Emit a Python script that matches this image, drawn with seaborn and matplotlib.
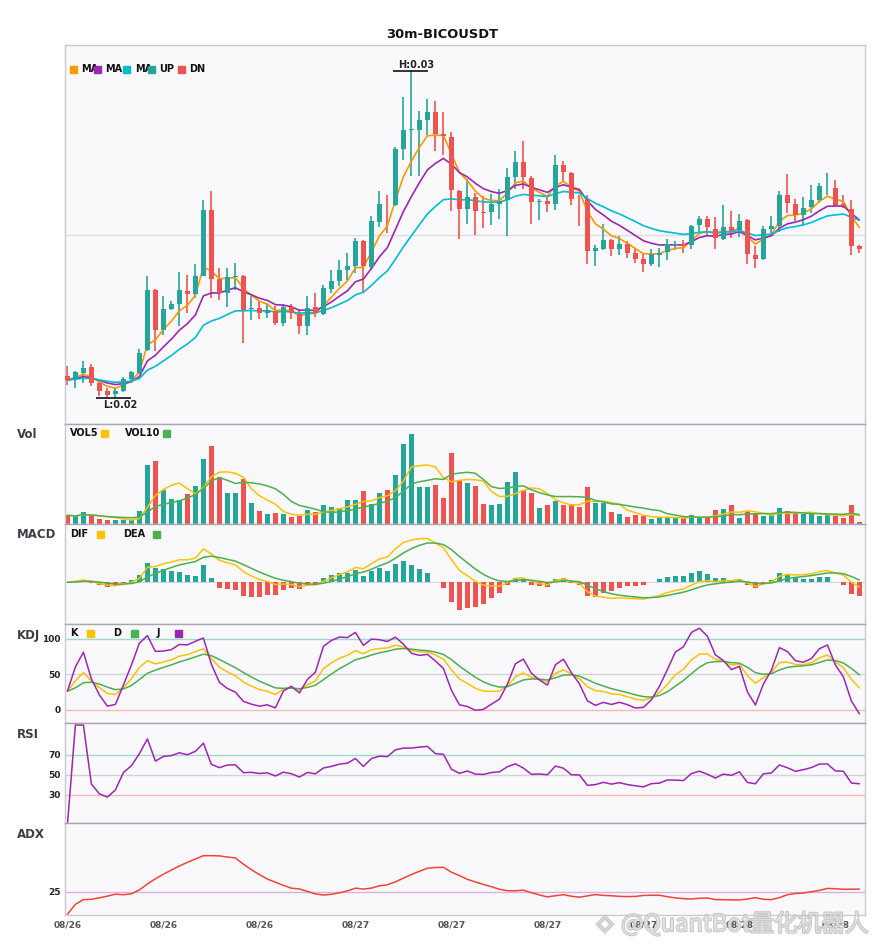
import numpy as np
import pandas as pd
import matplotlib
matplotlib.use("Agg")
import matplotlib.pyplot as plt
import matplotlib.patheffects as pe
from matplotlib.patches import Rectangle
import seaborn as sns

# ---------------- data (prices in 1e-5 USDT) ----------------
title = "30m-BICOUSDT"
open_e5 = [2218, 2213, 2225, 2235, 2203, 2187, 2181, 2187, 2211, 2223,
           2270, 2389, 2310, 2352, 2361, 2388, 2382, 2418, 2550, 2411,
           2383, 2415, 2417, 2351, 2353, 2343, 2347, 2323, 2355, 2342,
           2317, 2355, 2342, 2391, 2407, 2429, 2438, 2487, 2435, 2526,
           2560, 2559, 2672, 2709, 2710, 2730, 2745, 2702, 2695, 2588,
           2551, 2575, 2546, 2545, 2562, 2569, 2615, 2645, 2613, 2565,
           2568, 2562, 2640, 2624, 2572, 2570, 2467, 2473, 2490, 2472,
           2482, 2464, 2452, 2442, 2460, 2466, 2480, 2482, 2479, 2519,
           2532, 2512, 2492, 2515, 2509, 2529, 2460, 2452, 2512, 2518,
           2580, 2562, 2541, 2555, 2569, 2597, 2593, 2562, 2551, 2477]
high_e5 = [2238, 2228, 2248, 2242, 2209, 2194, 2194, 2217, 2227, 2271,
           2418, 2392, 2377, 2367, 2425, 2419, 2441, 2570, 2587, 2433,
           2433, 2443, 2419, 2377, 2367, 2364, 2357, 2362, 2362, 2353,
           2378, 2383, 2400, 2430, 2450, 2463, 2493, 2489, 2537, 2587,
           2580, 2675, 2775, 2827, 2747, 2771, 2768, 2745, 2705, 2590,
           2611, 2583, 2577, 2582, 2591, 2633, 2668, 2688, 2618, 2572,
           2580, 2660, 2648, 2626, 2580, 2580, 2480, 2522, 2492, 2498,
           2487, 2473, 2463, 2471, 2474, 2491, 2487, 2490, 2520, 2538,
           2538, 2535, 2560, 2547, 2542, 2531, 2477, 2518, 2537, 2588,
           2622, 2571, 2575, 2600, 2603, 2623, 2609, 2580, 2570, 2480]
low_e5 = [2200, 2194, 2204, 2197, 2178, 2175, 2173, 2185, 2203, 2222,
          2267, 2267, 2300, 2350, 2317, 2343, 2373, 2417, 2373, 2370,
          2355, 2390, 2285, 2329, 2331, 2334, 2320, 2317, 2331, 2302,
          2300, 2335, 2340, 2383, 2397, 2409, 2423, 2383, 2431, 2515,
          2503, 2557, 2650, 2617, 2618, 2700, 2667, 2660, 2547, 2491,
          2522, 2500, 2513, 2519, 2532, 2499, 2591, 2592, 2522, 2530,
          2545, 2549, 2607, 2560, 2518, 2442, 2437, 2470, 2458, 2460,
          2453, 2443, 2425, 2438, 2436, 2450, 2470, 2465, 2471, 2502,
          2497, 2471, 2490, 2493, 2495, 2442, 2433, 2449, 2503, 2507,
          2543, 2527, 2517, 2543, 2563, 2580, 2557, 2554, 2460, 2465]
close_e5 = [2210, 2225, 2235, 2203, 2187, 2180, 2187, 2211, 2225, 2263,
            2389, 2310, 2352, 2361, 2390, 2382, 2418, 2550, 2411, 2383,
            2415, 2417, 2350, 2353, 2343, 2349, 2323, 2355, 2343, 2317,
            2353, 2343, 2393, 2407, 2429, 2438, 2487, 2437, 2527, 2562,
            2559, 2672, 2710, 2711, 2730, 2745, 2702, 2698, 2589, 2551,
            2575, 2547, 2544, 2561, 2567, 2615, 2645, 2615, 2565, 2568,
            2562, 2640, 2625, 2572, 2571, 2467, 2473, 2490, 2472, 2482,
            2464, 2452, 2442, 2461, 2464, 2482, 2481, 2478, 2517, 2532,
            2515, 2493, 2515, 2508, 2528, 2462, 2452, 2512, 2518, 2580,
            2563, 2541, 2553, 2569, 2597, 2598, 2560, 2558, 2477, 2471]
volume = [26, 23, 35, 25, 15, 11, 11, 13, 11, 38,
          179, 191, 102, 75, 72, 92, 116, 197, 236, 143,
          95, 95, 137, 62, 38, 29, 32, 29, 20, 24,
          41, 35, 56, 50, 47, 72, 72, 99, 59, 95,
          102, 149, 243, 273, 113, 113, 119, 80, 213, 134,
          125, 116, 59, 56, 59, 128, 158, 104, 95, 47,
          56, 68, 56, 59, 50, 113, 62, 62, 35, 29,
          20, 26, 23, 14, 20, 20, 20, 17, 26, 20,
          20, 41, 44, 56, 17, 38, 29, 23, 26, 47,
          38, 32, 29, 32, 23, 26, 23, 17, 56, 5]
tick_pos = [0, 12, 24, 36, 48, 60, 72, 84, 96]
tick_labels = ["08/26", "08/26", "08/26", "08/27", "08/27",
               "08/27", "08/27", "08/28", "08/28"]

df = pd.DataFrame({"o": open_e5, "h": high_e5, "l": low_e5,
                   "c": close_e5, "v": volume}).astype(float)
df[["o", "h", "l", "c"]] /= 1e5
df["i"] = np.arange(len(df))
o, h, l, c, v = df.o, df.h, df.l, df.c, df.v
up = c >= o


def ema(s, alpha):
    return s.ewm(alpha=alpha, adjust=False).mean()


# ---------------- indicators ----------------
ma1 = c.ewm(span=5, adjust=False).mean()
ma2 = c.ewm(span=10, adjust=False).mean()
ma3 = c.ewm(span=20, adjust=False).mean()
vol5 = v.rolling(5, min_periods=1).mean()
vol10 = v.rolling(10, min_periods=1).mean()
dif = c.ewm(span=6, adjust=False).mean() - c.ewm(span=14, adjust=False).mean()
dea = dif.ewm(span=5, adjust=False).mean()
hist = 2 * (dif - dea)
ll = l.rolling(9, min_periods=1).min()
hh = h.rolling(9, min_periods=1).max()
rsv = ((c - ll) / (hh - ll) * 100).fillna(50)
k = rsv.ewm(com=2, adjust=False).mean()
d = k.ewm(com=2, adjust=False).mean()
j = 3 * k - 2 * d
delta = c.diff().fillna(0)
ag = ema(delta.clip(lower=0), 1 / 14)
al = ema(-delta.clip(upper=0), 1 / 14)
rsi = (100 * ag / (ag + al)).fillna(0)
pc = c.shift(1)
tr = pd.concat([h - l, (h - pc).abs(), (l - pc).abs()], axis=1).max(axis=1)
upm = h.diff()
dnm = -l.diff()
pdm = pd.Series(np.where((upm > dnm) & (upm > 0), upm, 0.0))
mdm = pd.Series(np.where((dnm > upm) & (dnm > 0), dnm, 0.0))
atr = ema(tr, 1 / 8)
pdi = 100 * ema(pdm, 1 / 8) / atr
mdi = 100 * ema(mdm, 1 / 8) / atr
dx = (100 * (pdi - mdi).abs() / (pdi + mdi)).fillna(0)
adx = ema(dx, 1 / 9)

# ---------------- style ----------------
sns.set_theme(style="white")
plt.rcParams["font.family"] = ["DejaVu Sans"]
GREEN, RED = "#26a69a", "#ef5350"
C_MA = ["#ff9800", "#9c27b0", "#00bcd4"]
YEL, GRN, PUR = "#ffc107", "#4caf50", "#9c27b0"
BG = "#f9f9fb"
W, H = 885, 950

fig = plt.figure(figsize=(W / 100, H / 100), dpi=100)
fig.patch.set_facecolor("white")


def box(top, bot, left=65, right=865):
    return [left / W, 1 - bot / H, (right - left) / W, (bot - top) / H]


def P(x, y):
    return (x / W, 1 - y / H)


def style_ax(ax, topcol="#a6a6ae"):
    ax.set_facecolor(BG)
    for s in ax.spines.values():
        s.set_color("#c9c9d1")
        s.set_linewidth(1)
    ax.spines["top"].set_color(topcol)
    ax.set_xlim(-0.3, 99.7)
    ax.set_xticks([])
    ax.tick_params(axis="y", length=0, pad=3, labelsize=6.5, labelcolor="#222")


def lines(ax, series_list, colors, lw=1.1):
    for s, col in zip(series_list, colors):
        sns.lineplot(x=df["i"], y=s, ax=ax, color=col, linewidth=lw,
                     legend=False, errorbar=None)
    ax.set_xlabel("")
    ax.set_ylabel("")


def legend(y, items):
    for x, label, sqx, col in items:
        fig.text(*P(x, y), label, fontsize=7, fontweight="bold", color="#111",
                 ha="left", va="center", zorder=5)
        fig.patches.append(Rectangle(P(sqx, y + 3.5), 7 / W, 7 / H,
                                     transform=fig.transFigure, color=col,
                                     zorder=6))


def panel_label(y, s):
    fig.text(*P(17, y), s, fontsize=8.5, fontweight="bold", color="#3d3d47",
             ha="left", va="center")


def yticks(ax, vals):
    ax.set_yticks(vals)
    ax.set_yticklabels([str(t) for t in vals], fontweight="bold", fontsize=6.5)


# ---------------- main candles ----------------
ax0 = fig.add_axes(box(45, 424))
style_ax(ax0, "#c9c9d1")
ax0.set_ylim(0.02122, 0.02880)
ax0.set_yticks([0.025])
ax0.set_yticklabels([])
ax0.grid(True, axis="y", color="#dcdce2", linewidth=1)
cols = np.where(up, GREEN, RED)
ax0.vlines(df["i"], l, h, colors=cols, linewidth=1.2, zorder=2)
body = np.maximum((c - o).abs(), 0.0000025)
ax0.bar(df["i"], body, bottom=np.minimum(o, c), width=0.72, color=cols,
        linewidth=0, zorder=3)
lines(ax0, [ma1, ma2, ma3], C_MA, lw=1.2)
hi_i = int(h.idxmax())
lo_i = int(l.idxmin())
ax0.hlines(h.max(), hi_i - 2.3, hi_i + 2.1, color="#111", linewidth=1.2, zorder=4)
ax0.text(hi_i + 0.6, h.max() + 0.00003, f"H:{h.max():.2f}", fontsize=7,
         fontweight="bold", ha="center", va="bottom", color="#222")
ax0.hlines(l.min(), lo_i - 2.4, lo_i + 2.0, color="#111", linewidth=1.2, zorder=4)
ax0.text(lo_i + 0.6, l.min() - 0.00004, f"L:{l.min():.2f}", fontsize=7,
         fontweight="bold", ha="center", va="top", color="#222")
legend(69, [(81, "MA", 70, C_MA[0]), (105, "MA", 94, C_MA[1]),
            (135, "MA", 123, C_MA[2]), (159, "UP", 148, GREEN),
            (189, "DN", 178, RED)])
fig.text(0.5, 1 - 34 / H, title, fontsize=9.4, fontweight="bold",
         ha="center", va="center", color="#111")

# ---------------- volume ----------------
ax1 = fig.add_axes(box(424, 524))
style_ax(ax1)
ax1.bar(df["i"], v, width=0.72, color=cols, linewidth=0)
lines(ax1, [vol5, vol10], [YEL, GRN], lw=1.1)
ax1.set_ylim(0, 302)
ax1.set_yticks([])
panel_label(435, "Vol")
legend(433, [(70, "VOL5", 101, YEL), (125, "VOL10", 163, GRN)])

# ---------------- MACD ----------------
ax2 = fig.add_axes(box(524, 624))
style_ax(ax2)
ax2.bar(df["i"], hist, width=0.72, color=np.where(hist >= 0, GREEN, RED),
        linewidth=0)
lines(ax2, [dif, dea], [YEL, GRN], lw=1.1)
ax2.axhline(0, color="#d6d6dc", linewidth=0.8, zorder=0)
ax2.set_ylim(-0.000908, 0.00127)
ax2.set_yticks([])
panel_label(535, "MACD")
legend(534, [(70, "DIF", 97, YEL), (123, "DEA", 153, GRN)])

# ---------------- KDJ ----------------
ax3 = fig.add_axes(box(624, 723))
style_ax(ax3)
for lv, col in [(100, "#9fd8d0"), (50, "#d2d2d8"), (0, "#f6b8b8")]:
    ax3.axhline(lv, color=col, linewidth=1, zorder=1)
lines(ax3, [k, d, j], [YEL, GRN, PUR], lw=1.1)
ax3.set_ylim(-18.3, 121)
yticks(ax3, [0, 50, 100])
panel_label(636, "KDJ")
legend(633, [(70, "K", 87, YEL), (113, "D", 131, GRN), (157, "J", 175, PUR)])

# ---------------- RSI ----------------
ax4 = fig.add_axes(box(723, 823))
style_ax(ax4)
for lv, col in [(70, "#9fd8d0"), (50, "#d2d2d8"), (30, "#f6b8b8")]:
    ax4.axhline(lv, color=col, linewidth=1, zorder=1)
lines(ax4, [rsi], [PUR], lw=1.1)
ax4.set_ylim(2, 102)
yticks(ax4, [30, 50, 70])
panel_label(735, "RSI")

# ---------------- ADX ----------------
ax5 = fig.add_axes(box(823, 915))
style_ax(ax5)
ax5.axhline(25, color="#dcaee6", linewidth=1, zorder=1)
lines(ax5, [adx], ["#f44336"], lw=1.1)
ax5.set_ylim(-0.8, 102.1)
yticks(ax5, [25])
panel_label(835, "ADX")
ax5.set_xticks(tick_pos)
ax5.set_xticklabels(tick_labels, fontsize=6.5, fontweight="bold", color="#555")
ax5.tick_params(axis="x", length=0, pad=4)

# watermark (semi-transparent, so the tick labels show through as in the source)
wm_fill = (1, 1, 1, 0.45)
wm_edge = (0.72, 0.72, 0.72, 0.8)
fig.text(*P(621, 924), "@QuantBot量化机器人", fontsize=17,
         family=["Noto Sans CJK SC", "DejaVu Sans"], color=wm_fill,
         ha="left", va="center", zorder=10,
         path_effects=[pe.withStroke(linewidth=1.4, foreground=wm_edge)])
fig.text(*P(605, 924), "◈", fontsize=16, family=["DejaVu Sans"],
         color=wm_fill, ha="center", va="center", zorder=10,
         path_effects=[pe.withStroke(linewidth=1.4, foreground=wm_edge)])

fig.savefig("out.png", dpi=100, facecolor="white")
